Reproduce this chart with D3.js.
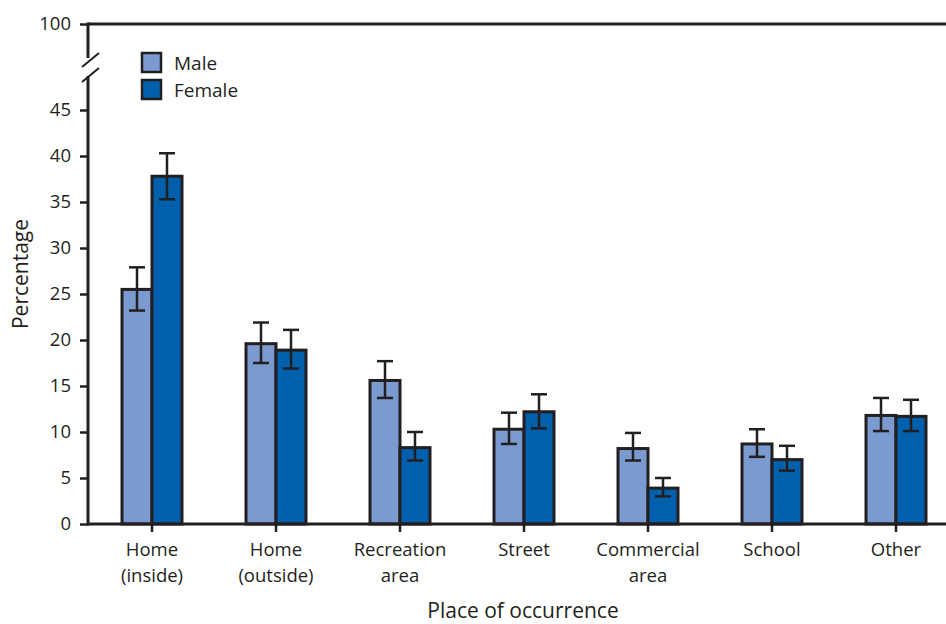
<!DOCTYPE html>
<html>
<head>
<meta charset="utf-8">
<script src="https://cdn.jsdelivr.net/npm/d3@7/dist/d3.min.js"></script>
<style>
  html, body { margin: 0; padding: 0; background: #fff; }
  svg { display: block; }
  text { font-family: "Open Sans", "Liberation Sans", sans-serif; fill: #231f20; }
</style>
</head>
<body>
<svg id="chart" width="946" height="624"></svg>
<script>
// Place of occurrence categories (label lines)
const categories = [
  ["Home", "(inside)"],
  ["Home", "(outside)"],
  ["Recreation", "area"],
  ["Street"],
  ["Commercial", "area"],
  ["School"],
  ["Other"]
];
const seriesNames = ["Male", "Female"];
const maleValues   = [25.5, 19.6, 15.6, 10.3, 8.2, 8.7, 11.8];
const maleLower    = [23.2, 17.5, 13.7,  8.7, 6.9, 7.3, 10.1];
const maleUpper    = [27.9, 21.9, 17.7, 12.1, 9.9, 10.3, 13.7];
const femaleValues = [37.8, 18.9,  8.3, 12.2, 3.9, 7.0, 11.7];
const femaleLower  = [35.3, 16.9,  6.9, 10.4, 3.0, 5.8, 10.1];
const femaleUpper  = [40.3, 21.1, 10.0, 14.1, 5.0, 8.5, 13.5];
const yTicks = [0, 5, 10, 15, 20, 25, 30, 35, 40, 45, 100];

const colors = { Male: "#7b9bd0", Female: "#0060ab" };
const ink = "#231f20";

const svg = d3.select("#chart");
const x0 = 88, yBase = 524;

// Broken y scale: 0–45 linear, then jump to 100 at the top line
const y = d3.scaleLinear().domain([0, 45, 100]).range([yBase, 110, 24]);

const catKeys = categories.map(c => c.join(" "));
const x = d3.scaleBand().domain(catKeys).range([90, 958]).paddingInner(0).paddingOuter(0);
const xs = d3.scaleBand().domain(seriesNames).range([0, 60]);
const groupOffset = (x.bandwidth() - 60) / 2;

const rows = catKeys.map((k, i) => ({
  key: k,
  bars: [
    { s: "Male", v: maleValues[i], lo: maleLower[i], hi: maleUpper[i] },
    { s: "Female", v: femaleValues[i], lo: femaleLower[i], hi: femaleUpper[i] }
  ]
}));

// Bars
const g = svg.append("g");
const groups = g.selectAll("g.cat").data(rows).join("g")
  .attr("transform", d => `translate(${x(d.key) + groupOffset},0)`);

groups.selectAll("rect").data(d => d.bars).join("rect")
  .attr("x", d => xs(d.s))
  .attr("y", d => y(d.v))
  .attr("width", xs.bandwidth())
  .attr("height", d => yBase - y(d.v))
  .attr("fill", d => colors[d.s])
  .attr("stroke", ink)
  .attr("stroke-width", 3);

// Error bars
const eb = groups.selectAll("g.err").data(d => d.bars).join("g")
  .attr("transform", d => `translate(${xs(d.s) + xs.bandwidth() / 2},0)`)
  .attr("stroke", ink).attr("stroke-width", 2.5);
eb.append("line").attr("y1", d => y(d.lo)).attr("y2", d => y(d.hi));
eb.append("line").attr("x1", -8).attr("x2", 8).attr("y1", d => y(d.hi)).attr("y2", d => y(d.hi));
eb.append("line").attr("x1", -8).attr("x2", 8).attr("y1", d => y(d.lo)).attr("y2", d => y(d.lo));

// Y axis
const yAxis = d3.axisLeft(y).tickValues(yTicks).tickSize(8).tickPadding(9).tickFormat(d3.format("d"));
const ya = svg.append("g").attr("transform", `translate(${x0},0)`).call(yAxis);
ya.select(".domain").remove();
ya.selectAll(".tick line").attr("stroke", ink).attr("stroke-width", 2.5);
ya.selectAll(".tick text").style("font-size", "18.5px").style("fill", ink)
  .style("font-family", "'Open Sans', sans-serif");

// Axis line with break marks
svg.append("line").attr("x1", x0).attr("x2", x0).attr("y1", y(100) - 1.5).attr("y2", 58)
  .attr("stroke", ink).attr("stroke-width", 3);
svg.append("line").attr("x1", x0).attr("x2", x0).attr("y1", 76).attr("y2", yBase + 1.5)
  .attr("stroke", ink).attr("stroke-width", 3);
[67, 82].forEach(yy => {
  svg.append("line").attr("x1", 82).attr("x2", 99).attr("y1", yy).attr("y2", yy - 14)
    .attr("stroke", ink).attr("stroke-width", 2);
});

// Top line at 100
svg.append("line").attr("x1", x0).attr("x2", 958).attr("y1", y(100)).attr("y2", y(100))
  .attr("stroke", ink).attr("stroke-width", 3);

// X axis
const xAxis = d3.axisBottom(x).tickSize(8).tickFormat("");
const xa = svg.append("g").attr("transform", `translate(0,${yBase})`).call(xAxis);
xa.select(".domain").remove();
xa.selectAll(".tick line").attr("stroke", ink).attr("stroke-width", 2.5);
svg.append("line").attr("x1", x0).attr("x2", 958).attr("y1", yBase).attr("y2", yBase)
  .attr("stroke", ink).attr("stroke-width", 3);

// Category labels
const labels = svg.append("g").selectAll("text").data(categories).join("text")
  .attr("text-anchor", "middle")
  .style("font-size", "18.5px")
  .attr("x", (d, i) => x(catKeys[i]) + x.bandwidth() / 2)
  .attr("y", 556);
labels.selectAll("tspan").data(d => d).join("tspan")
  .attr("x", function () { return d3.select(this.parentNode).attr("x"); })
  .attr("dy", (d, i) => i === 0 ? 0 : 26)
  .text(d => d);

// Axis titles
svg.append("text").attr("x", 523).attr("y", 618).attr("text-anchor", "middle")
  .style("font-size", "21px").text("Place of occurrence");
svg.append("text").attr("transform", "translate(28,274) rotate(-90)")
  .attr("text-anchor", "middle").style("font-size", "21px").text("Percentage");

// Legend
const legend = svg.append("g").selectAll("g").data(seriesNames).join("g")
  .attr("transform", (d, i) => `translate(142,${53 + i * 27})`);
legend.append("rect").attr("width", 19).attr("height", 19)
  .attr("fill", d => colors[d]).attr("stroke", ink).attr("stroke-width", 2.5);
legend.append("text").attr("x", 32).attr("y", 16.5).style("font-size", "19px").text(d => d);
</script>
</body>
</html>
